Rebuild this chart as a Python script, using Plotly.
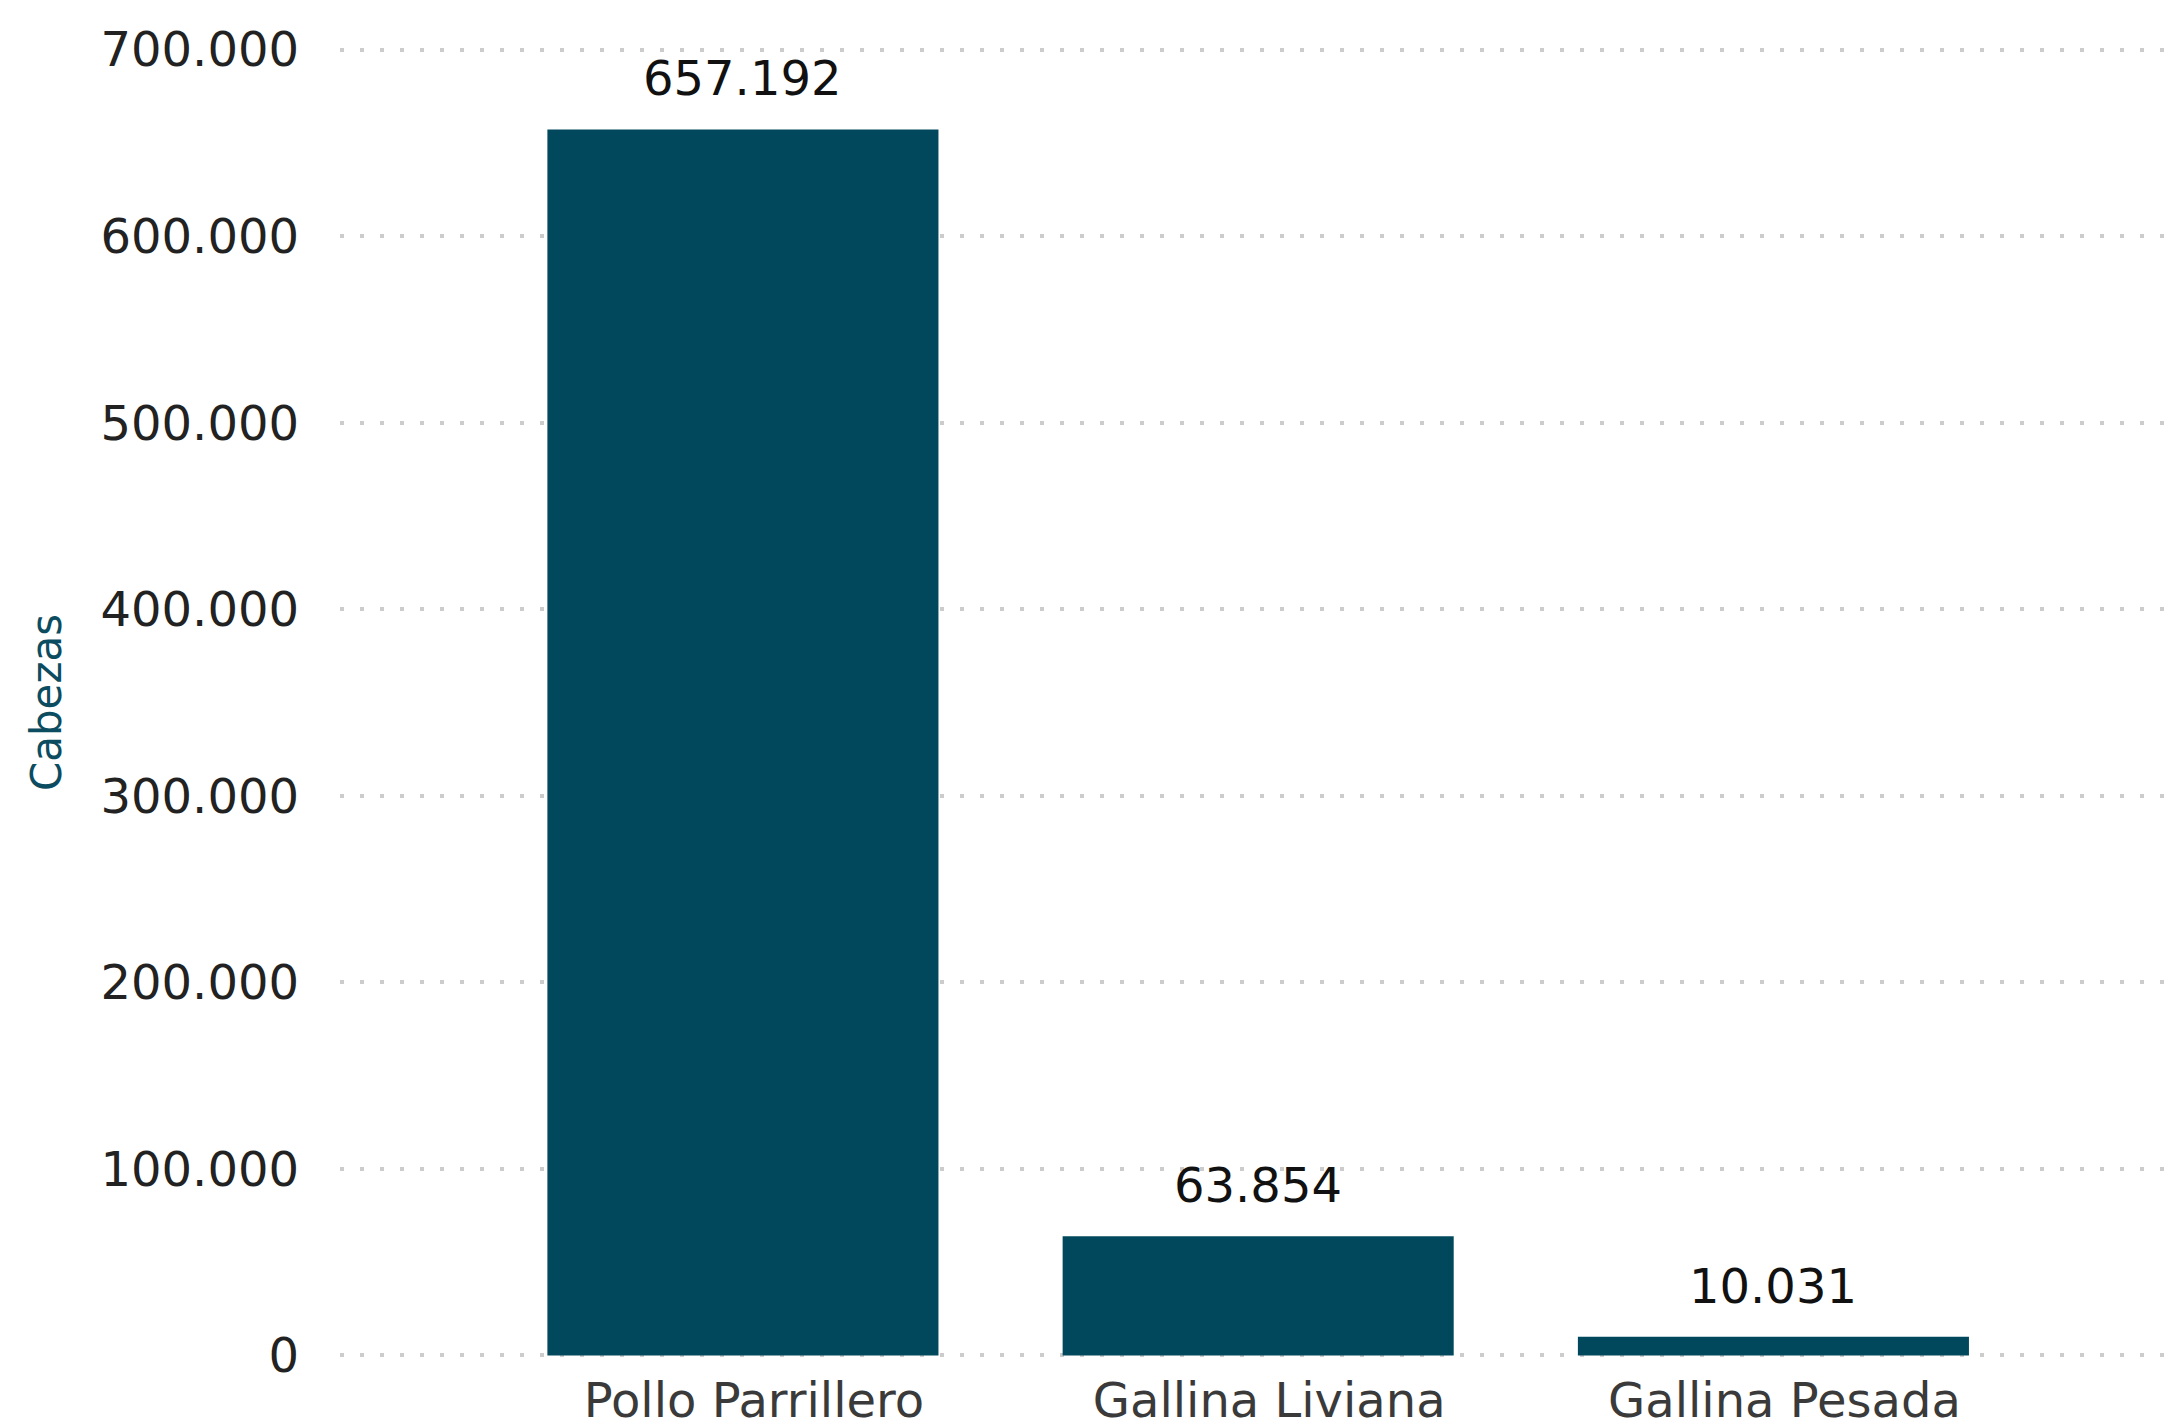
import plotly.graph_objects as go

categories = ["Pollo Parrillero", "Gallina Liviana", "Gallina Pesada"]
cabezas = [657192, 63854, 10031]
y_ticks = [0, 100000, 200000, 300000, 400000, 500000, 600000, 700000]

BAR_COLOR = "#02485C"
FONT = "DejaVu Sans"

fig = go.Figure()
fig.add_trace(go.Bar(
    x=categories,
    y=cabezas,
    marker=dict(color=BAR_COLOR, line=dict(width=0)),
    hoverinfo="x+y",
))

for c, v in zip(categories, cabezas):
    fig.add_annotation(
        x=c, y=v, xref="x", yref="y",
        text=f"{v:,}".replace(",", "."),
        showarrow=False, yanchor="bottom", yshift=21,
        font=dict(family=FONT, size=48, color="#111111"),
    )

fig.update_layout(
    width=2177, height=1425,
    margin=dict(l=340, r=12, t=47, b=67),
    paper_bgcolor="white", plot_bgcolor="white",
    separators=",.",
    bargap=0.241,
    showlegend=False,
    font=dict(family=FONT),
)

fig.update_xaxes(
    range=[-0.782, 2.76],
    showgrid=False, showline=False, zeroline=False, ticks="",
    tickfont=dict(family=FONT, size=48, color="#3a3a3a"),
    ticklabelstandoff=10,
    ticklabelshift=11,
    automargin=False,
)

fig.update_yaxes(
    range=[-700000 * 0.002, 700000 * 1.002],
    tickvals=y_ticks,
    tickformat=",d",
    showgrid=True, gridcolor="#CCCCCC", gridwidth=4, griddash="4px,16px",
    zeroline=False, showline=False, ticks="",
    tickfont=dict(family=FONT, size=48, color="#222222"),
    ticklabelstandoff=40,
    automargin=False,
    title=dict(text="Cabezas", font=dict(family=FONT, size=42, color="#0B4C60"), standoff=25),
)

fig.write_html(
    "out.html",
    config={"displayModeBar": False},
    post_script="document.body.style.margin='0';",
)
